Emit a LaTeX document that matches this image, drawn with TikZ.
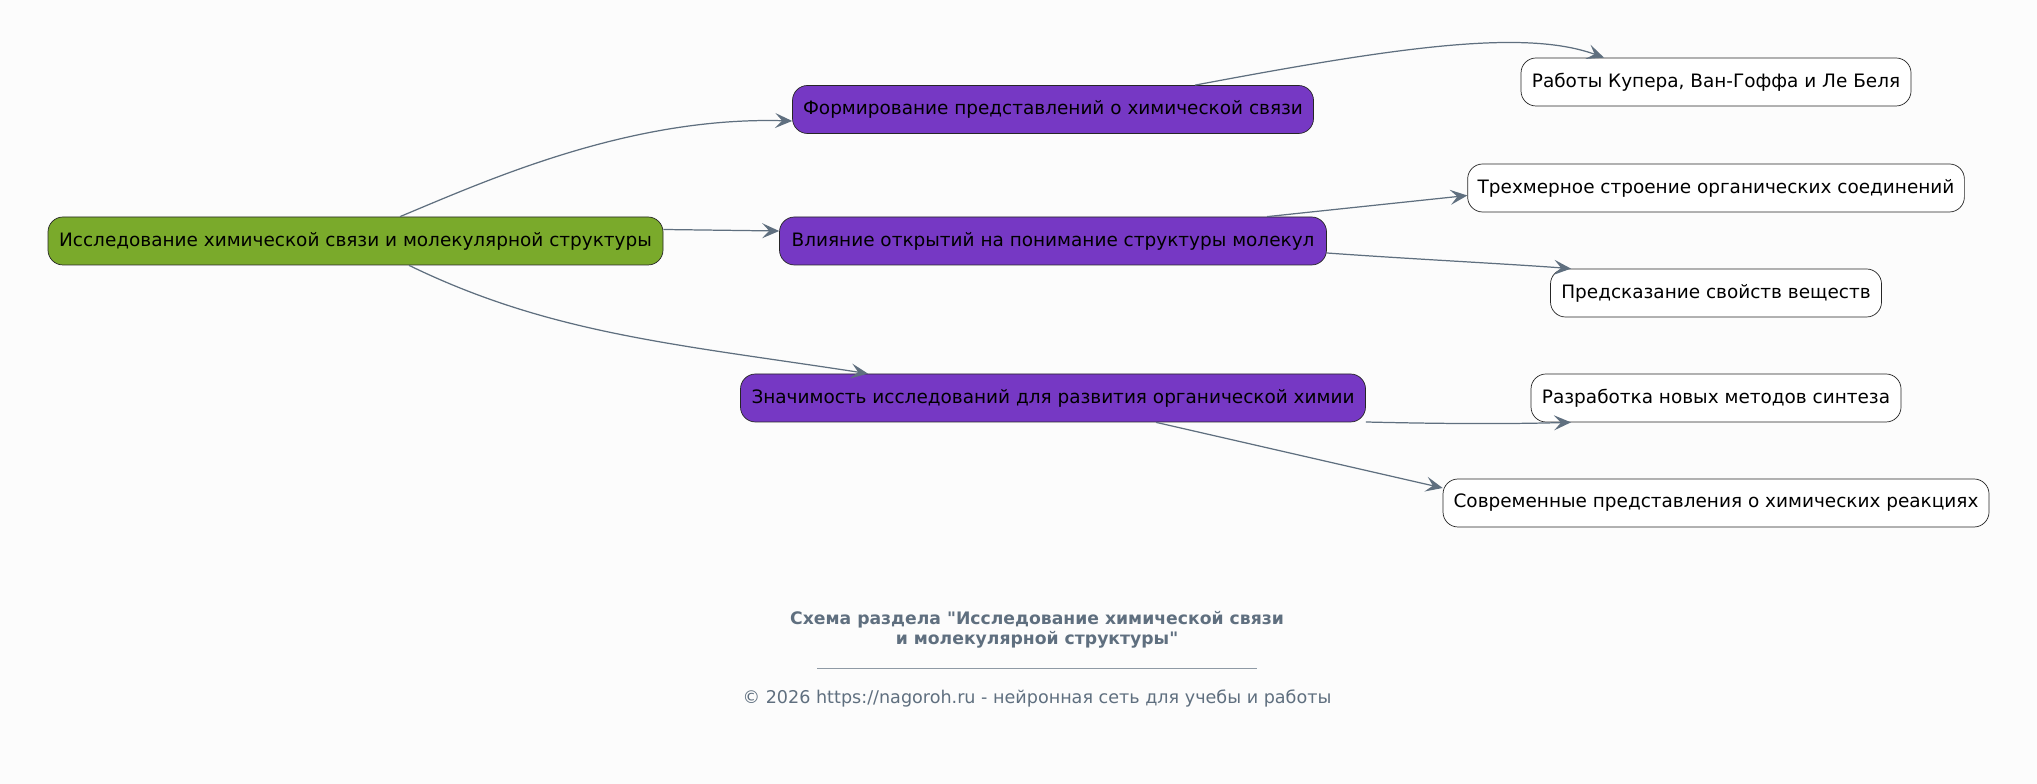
\documentclass[tikz,border=0pt]{standalone}
\usepackage{fontspec}
\setmainfont{DejaVu Sans}[Ligatures=TeXOff]
\usepackage{xcolor}
\usetikzlibrary{positioning,arrows.meta}
\definecolor{rootgreen}{RGB}{122,170,43}
\definecolor{topicviolet}{RGB}{118,56,196}
\definecolor{edgegray}{RGB}{95,111,127}
\definecolor{paper}{RGB}{252,252,252}

\begin{document}
\begin{tikzpicture}[
		box/.style={draw=black!85, rounded corners=0.3cm, minimum height=0.96cm,
		            inner xsep=0.2cm, font=\fontsize{10.5}{12}\selectfont, text=black},
		rootbox/.style={box, fill=rootgreen},
		topicbox/.style={box, fill=topicviolet},
		leafbox/.style={box, fill=white},
		link/.style={draw=edgegray, line width=0.7pt,
		             -{Stealth[length=0.34cm, width=0.3cm, inset=0.14cm]}}]
		\fill[paper] (0,0) rectangle (40.74,15.68);
		\useasboundingbox (0,0) rectangle (40.74,15.68);
		% root and topics
		\node[rootbox, minimum width=12.3cm] (root) at (7.11, 10.86) {Исследование химической связи и молекулярной структуры};
		\node[topicbox, minimum width=10.42cm] (form) at (21.06, 13.49) {Формирование представлений о химической связи};
		\node[topicbox, minimum width=10.94cm] (infl) at (21.06, 10.86) {Влияние открытий на понимание структуры молекул};
		\node[topicbox, minimum width=12.5cm] (sign) at (21.06, 7.72) {Значимость исследований для развития органической химии};
		% leaves
		\node[leafbox, minimum width=7.8cm] (works) at (34.32, 14.04) {Работы Купера, Ван-Гоффа и Ле Беля};
		\node[leafbox, minimum width=9.9cm] (spatial) at (34.32, 11.92) {Трехмерное строение органических соединений};
		\node[leafbox, minimum width=6.62cm] (predict) at (34.32, 9.82) {Предсказание свойств веществ};
		\node[leafbox, minimum width=7.4cm] (synth) at (34.32, 7.72) {Разработка новых методов синтеза};
		\node[leafbox, minimum width=10.92cm] (react) at (34.32, 5.62) {Современные представления о химических реакциях};
		% connectors
		\draw[link] (root.north) ++(0.89,0) coordinate (r1)
			(r1) .. controls (9.8, 12.1) and (12.6, 13.35) .. ([yshift=-0.23cm]form.west);
		\draw[link] ([yshift=0.23cm]root.east) -- ([yshift=0.2cm]infl.west);
		\draw[link] (root.south) ++(1.07,0) coordinate (r3)
			(r3) .. controls (11.0, 9.0) and (13.5, 8.8) .. ([xshift=-3.7cm]sign.north);
		\draw[link] ([xshift=2.84cm]form.north) .. controls (28.0, 14.75) and (30.5, 15.1) .. ([xshift=-2.24cm]works.north);
		\draw[link] ([xshift=4.28cm]infl.north) -- ([yshift=-0.15cm]spatial.west);
		\draw[link] ([yshift=-0.24cm]infl.east) .. controls (28.2, 10.5) and (30.2, 10.4) .. ([xshift=-2.9cm]predict.north);
		\draw[link] ([yshift=-0.48cm]sign.east) .. controls (29.0, 7.2) and (30.2, 7.2) .. ([xshift=-2.9cm]synth.south);
		\draw[link] ([xshift=2.06cm]sign.south) -- ([yshift=0.3cm]react.west);
		% caption
		\node[font=\fontsize{9.8}{11.5}\selectfont\bfseries, text=edgegray, align=center] (title) at (20.74, 3.08)
			{Схема раздела "Исследование химической связи\\ и молекулярной структуры"};
		\coordinate (ruleL) at (16.34, 2.32);
		\coordinate (ruleR) at (25.14, 2.32);
		\draw[edgegray!70, line width=0.5pt] (ruleL) -- (ruleR);
		\node[font=\fontsize{10}{12}\selectfont, text=edgegray] (foot) at (20.74, 1.70)
			{© 2026 https://nagoroh.ru - нейронная сеть для учебы и работы};
	\end{tikzpicture}
\end{document}
